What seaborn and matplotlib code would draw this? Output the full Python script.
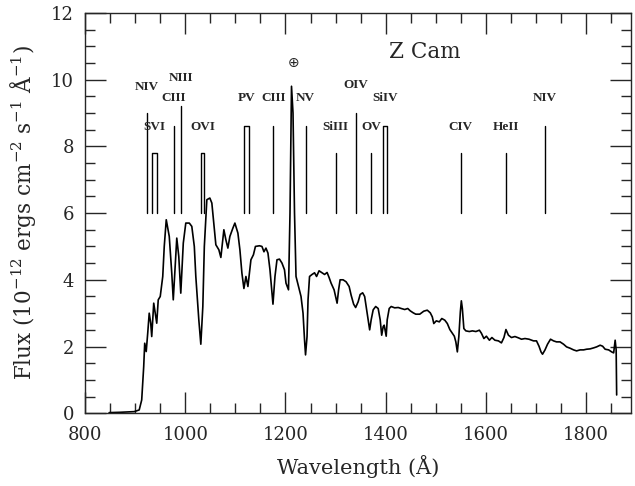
import numpy as np
import pandas as pd
import seaborn as sns
import matplotlib.pyplot as plt
from matplotlib.ticker import MultipleLocator

# Spektrum Z Cam
wavelength = [848, 870, 898, 908, 913, 917, 919, 922, 925, 928, 931, 933, 937, 940, 943, 946,
              950, 955, 958, 962, 968, 973, 976, 979, 983, 987, 991, 996, 1001, 1008, 1013,
              1018, 1021, 1027, 1031, 1035, 1038, 1043, 1049, 1053, 1058, 1061, 1067, 1071,
              1077, 1081, 1085, 1089, 1095, 1099, 1105, 1109, 1113, 1117, 1121, 1125, 1128,
              1131, 1136, 1140, 1148, 1153, 1157, 1161, 1165, 1169, 1175, 1179, 1183, 1188,
              1193, 1198, 1201, 1206, 1209, 1212, 1215, 1218, 1221, 1226, 1231, 1235, 1238,
              1240, 1243, 1245, 1248, 1253, 1258, 1262, 1267, 1273, 1278, 1283, 1287, 1291,
              1297, 1300, 1303, 1306, 1309, 1315, 1321, 1327, 1331, 1336, 1340, 1345, 1349,
              1354, 1358, 1361, 1365, 1368, 1371, 1375, 1380, 1385, 1389, 1392, 1395, 1397,
              1401, 1403, 1407, 1411, 1418, 1425, 1431, 1438, 1444, 1449, 1455, 1460, 1468,
              1476, 1483, 1489, 1493, 1496, 1501, 1507, 1512, 1518, 1523, 1528, 1533, 1537,
              1540, 1543, 1546, 1549, 1551, 1553, 1556, 1560, 1567, 1573, 1580, 1587, 1591,
              1596, 1601, 1607, 1612, 1618, 1625, 1631, 1636, 1640, 1645, 1651, 1658, 1665,
              1671, 1678, 1686, 1695, 1701, 1706, 1710, 1713, 1718, 1723, 1729, 1735, 1741,
              1748, 1755, 1761, 1768, 1775, 1781, 1788, 1795, 1801, 1808, 1815, 1821, 1828,
              1833, 1838, 1845, 1851, 1855, 1858, 1860, 1861]
flux = [0.02, 0.03, 0.05, 0.1, 0.4, 1.4, 2.1, 1.85, 2.4, 3.0, 2.7, 2.3, 3.3, 3.0, 2.7, 3.4,
        3.5, 4.1, 5.0, 5.8, 5.3, 4.2, 3.4, 4.2, 5.25, 4.7, 3.6, 5.1, 5.7, 5.7, 5.6,
        5.0, 4.1, 2.8, 2.07, 3.2, 5.0, 6.4, 6.45, 6.3, 5.5, 5.05, 4.9, 4.67,
        5.5, 5.2, 4.95, 5.3, 5.55, 5.7, 5.4, 4.9, 4.2, 3.74, 4.1, 3.8, 4.2,
        4.6, 4.75, 5.0, 5.02, 5.0, 4.84, 4.95, 4.8, 4.3, 3.27, 4.1, 4.6, 4.62,
        4.5, 4.3, 3.9, 3.7, 6.0, 9.8, 9.0, 6.0, 4.1, 3.8, 3.5, 3.0, 2.2,
        1.75, 2.3, 3.4, 4.1, 4.16, 4.21, 4.1, 4.27, 4.21, 4.16, 4.22, 4.07, 3.9,
        3.7, 3.5, 3.3, 3.7, 4.0, 4.0, 3.94, 3.8, 3.54, 3.27, 3.17, 3.34, 3.56,
        3.61, 3.5, 3.2, 2.8, 2.5, 2.8, 3.1, 3.2, 3.14, 2.8, 2.34, 2.6, 2.64,
        2.31, 2.8, 3.14, 3.2, 3.16, 3.17, 3.14, 3.11, 3.14, 3.07, 3.01, 2.97, 2.97,
        3.06, 3.09, 3.01, 2.89, 2.69, 2.77, 2.74, 2.84, 2.79, 2.69, 2.51, 2.4, 2.31,
        2.14, 1.84, 2.3, 3.04, 3.37, 3.14, 2.54, 2.47, 2.45, 2.47, 2.45, 2.49, 2.4,
        2.24, 2.31, 2.19, 2.27, 2.19, 2.17, 2.11, 2.27, 2.51, 2.34, 2.27, 2.3, 2.26,
        2.22, 2.24, 2.22, 2.17, 2.17, 2.01, 1.84, 1.77, 1.9, 2.07, 2.22, 2.17, 2.14,
        2.14, 2.07, 1.99, 1.95, 1.9, 1.87, 1.9, 1.9, 1.92, 1.93, 1.96, 1.99, 2.04,
        2.01, 1.92, 1.9, 1.84, 1.81, 2.19, 1.9, 0.55]

# Identifikasi garis: nama, panjang gelombang, tinggi garis, tinggi label
line_names = ["NIV", "SVI", "CIII", "NIII", "OVI", "PV", "CIII", "NV", "SiIII",
              "OIV", "OV", "SiIV", "CIV", "HeII", "NIV"]
line_waves = [[923], [933.4, 944.5], [977], [991], [1031.9, 1037.6], [1118, 1128],
              [1176], [1240], [1300], [1340], [1371], [1393.8, 1402.8], [1550],
              [1640], [1718]]
line_tops = [9.0, 7.8, 8.6, 9.2, 7.8, 8.6, 8.6, 8.6, 7.8, 9.0, 7.8, 8.6, 7.8, 7.8, 8.6]
label_levels = [9.77, 8.57, 9.44, 10.04, 8.57, 9.44, 9.44, 9.44, 8.57, 9.83, 8.57,
                9.44, 8.57, 8.57, 9.44]
line_base = 6.0

spektrum = pd.DataFrame({"wavelength": wavelength, "flux": flux})

sns.set_style("ticks")
plt.rcParams['font.family'] = ['DejaVu Serif']
plt.rcParams['mathtext.default'] = 'regular'

fig = plt.figure(figsize=(6.35, 4.86), dpi=100)
ax = fig.add_axes([0.134, 0.1496, 0.86, 0.824])

sns.lineplot(x="wavelength", y="flux", data=spektrum, color="black", linewidth=1.2,
             estimator=None, sort=False, ax=ax)

for nama, ws, top, lvl in zip(line_names, line_waves, line_tops, label_levels):
    if len(ws) == 1:
        ax.plot([ws[0], ws[0]], [line_base, top], color="black", linewidth=1.0)
    else:
        ax.plot([ws[0], ws[0], ws[1], ws[1]], [line_base, top, top, line_base],
                color="black", linewidth=1.0)
    ax.text(np.mean(ws), lvl, nama, ha="center", va="center", fontsize=9.5,
            family="Liberation Serif", fontweight="bold")

# Geocoronal Lyman alpha
ax.text(1216, 10.49, "\u2295", ha="center", va="center", fontsize=10, family="DejaVu Sans")
ax.text(1478, 10.82, "Z Cam", ha="center", va="center", fontsize=15.5)

ax.set_xlim(800, 1890)
ax.set_ylim(0, 12)
ax.xaxis.set_major_locator(MultipleLocator(200))
ax.xaxis.set_minor_locator(MultipleLocator(50))
ax.yaxis.set_major_locator(MultipleLocator(2))
ax.yaxis.set_minor_locator(MultipleLocator(0.5))
ax.tick_params(which="both", direction="in", top=True, right=True, width=1, labelsize=13)
ax.tick_params(which="major", length=15)
ax.tick_params(which="minor", length=7.5)
ax.tick_params(axis="x", pad=9)
ax.tick_params(axis="y", pad=8)
for s in ax.spines.values():
    s.set_linewidth(1.0)

ax.set_xlabel("Wavelength (\u00c5)", fontsize=15, labelpad=8)
ax.set_ylabel(r"Flux (10$^{-12}$ ergs cm$^{-2}$ s$^{-1}$ $\AA^{-1}$)", fontsize=15.5)
ax.yaxis.set_label_coords(-0.086, 0.5)

fig.savefig("out.png", dpi=100)
